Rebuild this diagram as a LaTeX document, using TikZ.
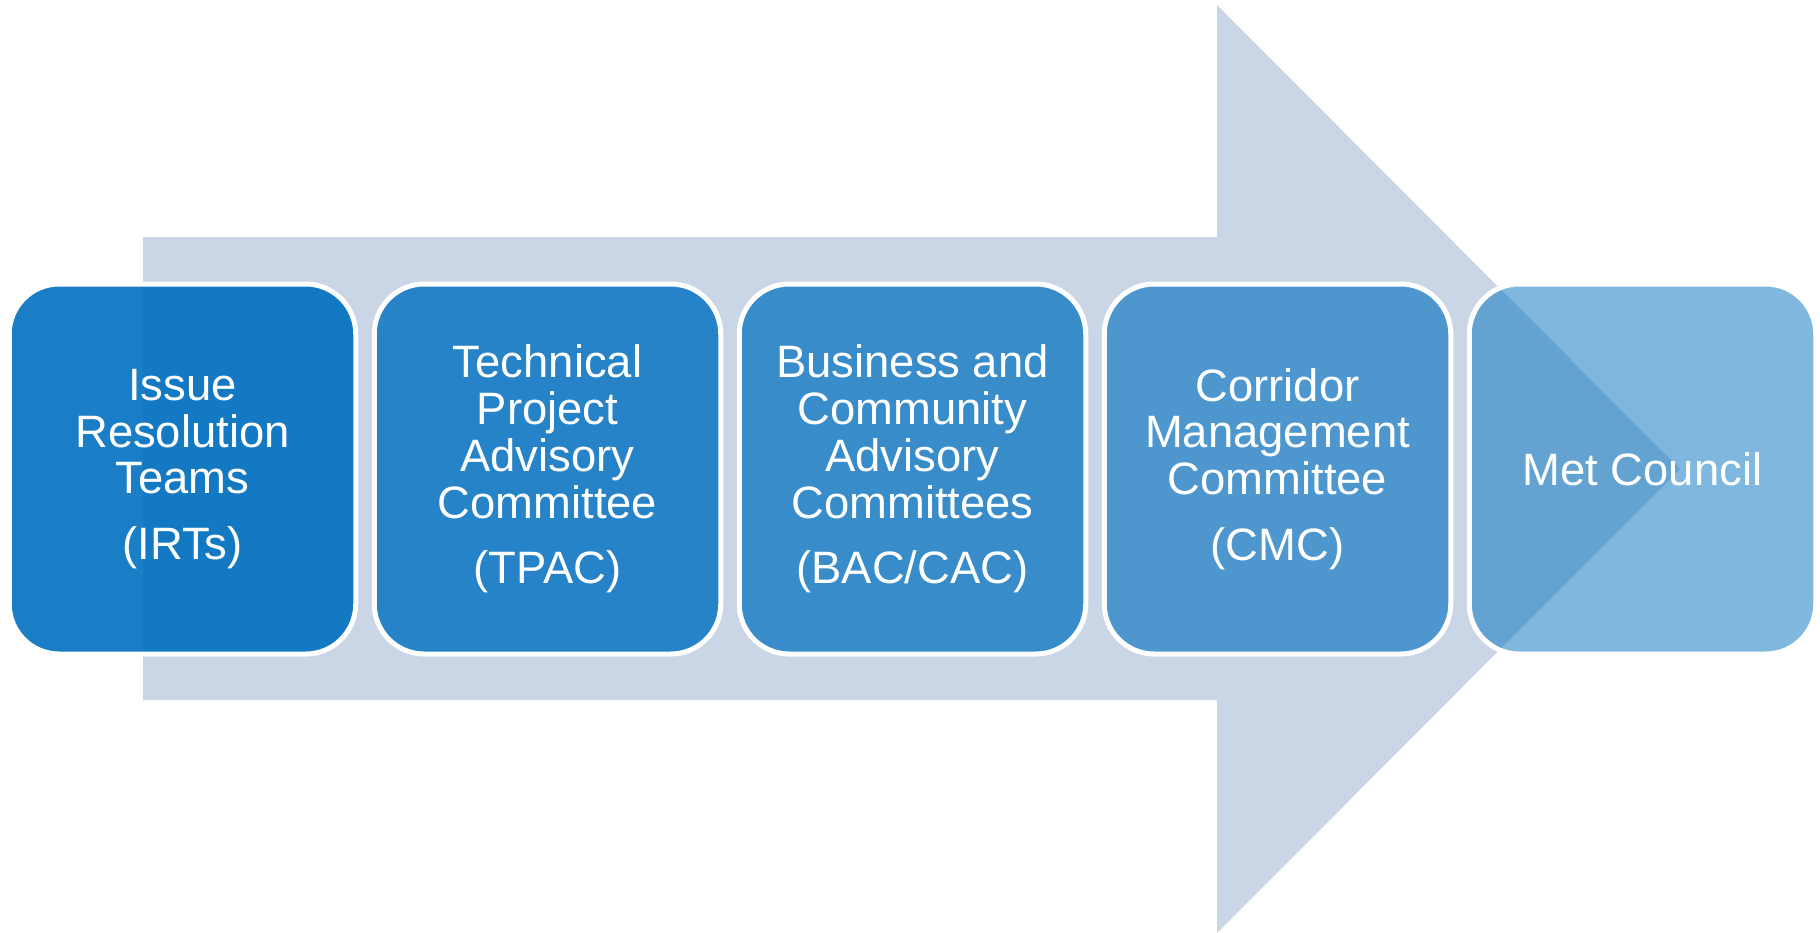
\documentclass[tikz,border=0pt]{standalone}
\usepackage{fontspec}
\setmainfont{Liberation Sans}
\definecolor{arrowc}{RGB}{202,213,230}
\definecolor{boxc}{RGB}{0,112,192}
\begin{document}
\begin{tikzpicture}[x=0.5pt,y=-0.5pt,
  stage/.style={draw=white, line width=2.5pt, rounded corners=25pt,
    minimum width=173.25pt, minimum height=185pt, inner sep=0pt,
    align=center, text=white, text opacity=1, fill=boxc,
    font=\fontsize{22.7}{23.4}\selectfont},
]
\useasboundingbox (0,0) rectangle (1820,932);
% big background arrow
\fill[arrowc] (143,237) -- (1217,237) -- (1217,5) -- (1680,469)
  -- (1217,933) -- (1217,700) -- (143,700) -- cycle;
% stages
\node[stage, fill opacity=0.9] (irt) at (182.5,469)
  {Issue\\Resolution\\Teams\\[9.5pt](IRTs)};
\node[stage, fill opacity=0.81] (tpac) at (547.5,469)
  {Technical\\Project\\Advisory\\Committee\\[9.5pt](TPAC)};
\node[stage, fill opacity=0.72] (bac) at (912.5,469)
  {Business and\\Community\\Advisory\\Committees\\[9.5pt](BAC/CAC)};
\node[stage, fill opacity=0.61] (cmc) at (1277.5,469)
  {Corridor\\Management\\Committee\\[9.5pt](CMC)};
\node[stage, fill opacity=0.5] (met) at (1642.5,469)
  {Met Council};
\end{tikzpicture}
\end{document}
